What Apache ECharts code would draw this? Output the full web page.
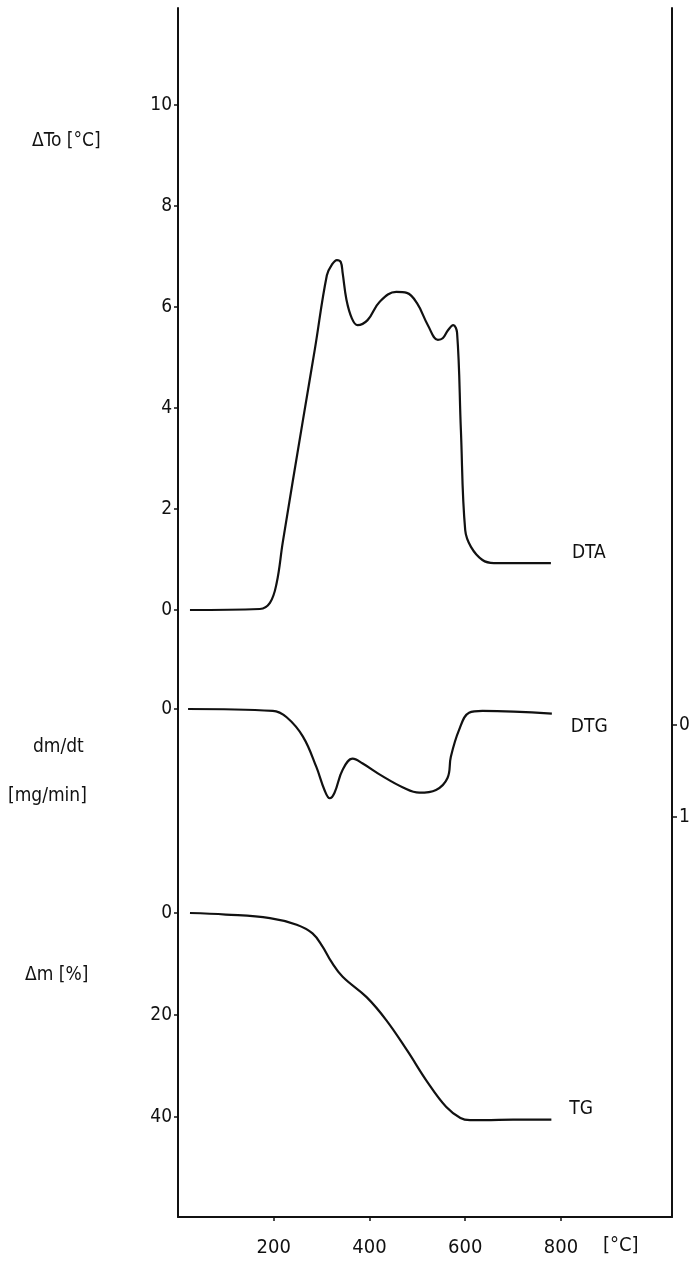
<!DOCTYPE html>
<html>
<head>
<meta charset="utf-8">
<script src="https://cdn.jsdelivr.net/npm/echarts@6/dist/echarts.min.js"></script>
<style>
  html, body { margin: 0; padding: 0; background: #fff; }
  #chart { width: 696px; height: 1264px; }
</style>
</head>
<body>
<div id="chart"></div>
<script>
// DTA curve, temperature [°C] and ΔTo [°C]
var tempDTA = [25, 171, 192, 206, 219, 261, 286, 311, 321, 332, 340, 344, 352, 363, 375, 396, 421, 456, 478, 499, 522, 543, 553, 564, 575, 583, 591, 600, 612, 636, 660, 779];
var valDTA = [0, 0.02, 0.14, 0.53, 1.35, 3.76, 5.17, 6.63, 6.83, 6.93, 6.89, 6.67, 6.14, 5.78, 5.64, 5.74, 6.1, 6.3, 6.28, 6.08, 5.64, 5.35, 5.38, 5.54, 5.64, 5.49, 3.56, 1.58, 1.25, 0.99, 0.93, 0.93];

// DTG curve, dm/dt [mg/min]
var tempDTG = [21, 198, 227, 261, 289, 306, 317, 327, 344, 365, 385, 427, 469, 504, 539, 563, 570, 587, 608, 636, 781];
var valDTG = [0, 0.02, 0.09, 0.30, 0.63, 0.88, 0.97, 0.91, 0.66, 0.54, 0.59, 0.73, 0.85, 0.91, 0.88, 0.75, 0.52, 0.23, 0.04, 0.02, 0.05];

// TG curve, Δm [%]
var tempTG = [25, 100, 192, 248, 281, 302, 320, 344, 394, 435, 479, 520, 560, 590, 610, 640, 700, 780];
var valTG = [0, 0.3, 1.0, 2.3, 4, 6.6, 9.5, 12.5, 16.5, 21, 27, 33, 38, 40.2, 40.6, 40.6, 40.5, 40.5];

// tick labels
var xTicks = [200, 400, 600, 800];
var dtaTicks = [0, 2, 4, 6, 8, 10];
var dtgTicks = [0];
var tgTicks = [0, 20, 40];
var rightTicks = [0, 1];

var FONT = "'Liberation Sans Narrow', 'DejaVu Sans Condensed', 'Arial Narrow', sans-serif";
var INK = '#111';

function pairs(xs, ys) {
    var out = [];
    for (var i = 0; i < xs.length; i++)
        out.push([xs[i], ys[i]]);
    return out;
}

// grid spans y 8..1217 px; each stacked axis is scaled so its ticks land where the plot has them
var gridTop = 8, gridBottom = 1217;
function range(zeroPx, pxPerUnit, inverse) {
    var up = (zeroPx - gridTop) / pxPerUnit;
    var down = (gridBottom - zeroPx) / pxPerUnit;
    return inverse ? { min: -up, max: down } : { min: -down, max: up };
}

function leftAxis(r, ticks, inverse, showLine) {
    return {
        type: 'value',
        position: 'left',
        min: r.min,
        max: r.max,
        inverse: inverse,
        splitLine: { show: false },
        axisLine: { show: showLine, onZero: false, lineStyle: { color: INK, width: 2 } },
        axisTick: { show: true, length: 4, customValues: ticks, lineStyle: { color: INK, width: 1.5 } },
        axisLabel: { customValues: ticks, margin: 6, color: INK, fontSize: 19, fontFamily: FONT }
    };
}

var rDTA = range(610, 50.5, false);
var rDTG = range(709, 92, true);
var rTG = range(913, 5.1, true);
var rRight = range(725, 92, true);

var chart = echarts.init(document.getElementById('chart'));

var lineBase = {
    type: 'line',
    smooth: 0.4,
    showSymbol: false,
    lineStyle: { color: INK, width: 2.2 },
    itemStyle: { color: INK },
    silent: true
};

chart.setOption({
    backgroundColor: '#fff',
    animation: false,
    grid: { left: 178, right: 24, top: gridTop, bottom: 1264 - gridBottom },
    xAxis: {
        type: 'value',
        min: 0,
        max: 1032,
        splitLine: { show: false },
        axisLine: { onZero: false, lineStyle: { color: INK, width: 2 } },
        axisTick: { length: 4, customValues: xTicks, lineStyle: { color: INK, width: 1.5 } },
        axisLabel: { customValues: xTicks, margin: 21, color: INK, fontSize: 20, fontFamily: FONT }
    },
    yAxis: [
        leftAxis(rDTA, dtaTicks, false, true),
        leftAxis(rDTG, dtgTicks, true, false),
        leftAxis(rTG, tgTicks, true, false),
        {
            type: 'value',
            position: 'right',
            min: rRight.min,
            max: rRight.max,
            inverse: true,
            splitLine: { show: false },
            axisLine: { show: true, onZero: false, lineStyle: { color: INK, width: 2 } },
            axisTick: { show: true, length: 5, customValues: rightTicks, lineStyle: { color: INK, width: 1.5 } },
            axisLabel: { customValues: rightTicks, margin: 7, color: INK, fontSize: 19, fontFamily: FONT }
        }
    ],
    series: [
        Object.assign({}, lineBase, {
            name: 'DTA', yAxisIndex: 0, data: pairs(tempDTA, valDTA),
            endLabel: { show: true, formatter: 'DTA', offset: [13, -10], color: INK, fontSize: 19, fontFamily: FONT }
        }),
        Object.assign({}, lineBase, {
            name: 'DTG', yAxisIndex: 1, data: pairs(tempDTG, valDTG),
            endLabel: { show: true, formatter: 'DTG', offset: [11, 13], color: INK, fontSize: 19, fontFamily: FONT }
        }),
        Object.assign({}, lineBase, {
            name: 'TG', yAxisIndex: 2, data: pairs(tempTG, valTG),
            endLabel: { show: true, formatter: 'TG', offset: [10, -10], color: INK, fontSize: 19, fontFamily: FONT }
        })
    ],
    graphic: [
        { type: 'text', left: 32, top: 132, style: { text: 'ΔTo [°C]', fill: INK, font: '19px ' + FONT } },
        { type: 'text', left: 33, top: 738, style: { text: 'dm/dt', fill: INK, font: '19px ' + FONT } },
        { type: 'text', left: 8, top: 787, style: { text: '[mg/min]', fill: INK, font: '19px ' + FONT } },
        { type: 'text', left: 25, top: 966, style: { text: 'Δm [%]', fill: INK, font: '19px ' + FONT } },
        { type: 'text', left: 603, top: 1236, style: { text: '[°C]', fill: INK, font: '20px ' + FONT } }
    ]
});
</script>
</body>
</html>
